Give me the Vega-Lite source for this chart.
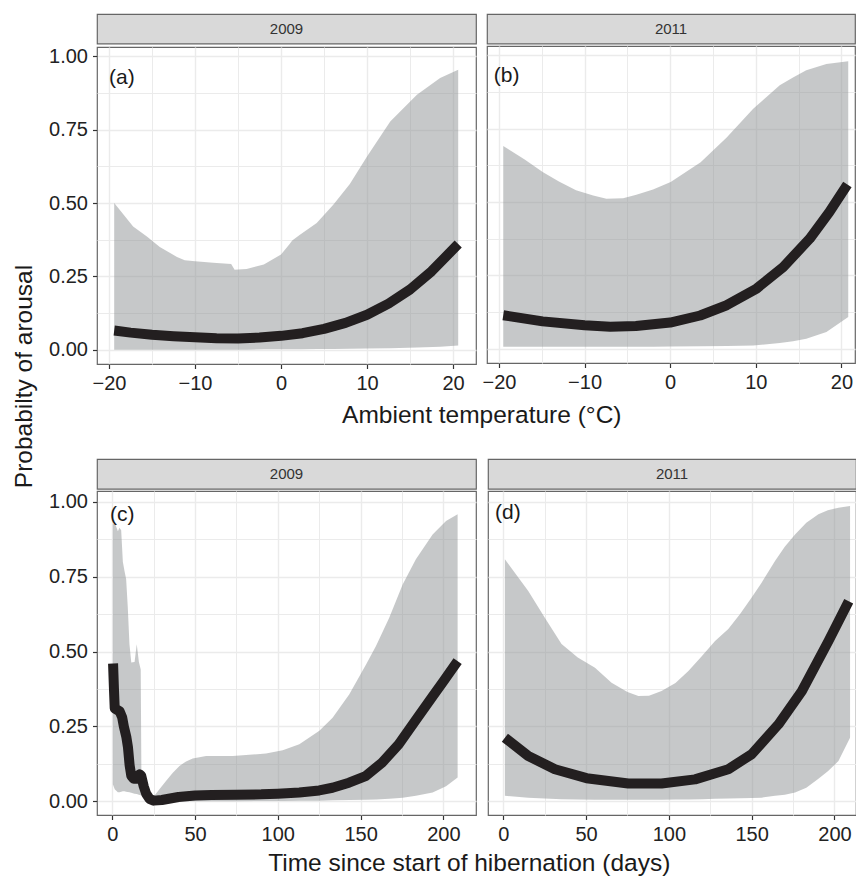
{
  "$schema": "https://vega.github.io/schema/vega-lite/v6.json",
  "padding": {"left": 12, "top": 13, "right": 0, "bottom": 0},
  "title": {"text": "Probabilty of arousal", "orient": "left", "anchor": "middle", "fontSize": 24.5, "fontWeight": "normal", "color": "#1a1a1a", "font": "Liberation Sans", "offset": 10, "dx": 68},
  "datasets": {
    "bandA": [
      {"x": -19.4, "lo": 0, "hi": 0.5}, {"x": -18.3, "lo": 0, "hi": 0.46}, {"x": -17.2, "lo": 0, "hi": 0.42}, {"x": -15.6, "lo": 0, "hi": 0.386},
      {"x": -14.1, "lo": 0, "hi": 0.35}, {"x": -12.1, "lo": 0, "hi": 0.316}, {"x": -11.2, "lo": 0, "hi": 0.305}, {"x": -10, "lo": 0, "hi": 0.301},
      {"x": -7.9, "lo": 0, "hi": 0.296}, {"x": -5.8, "lo": 0, "hi": 0.292}, {"x": -5.4, "lo": 0, "hi": 0.272}, {"x": -4, "lo": 0, "hi": 0.275},
      {"x": -2, "lo": 0.001, "hi": 0.29}, {"x": 0, "lo": 0.001, "hi": 0.324}, {"x": 1.0, "lo": 0.001, "hi": 0.36}, {"x": 1.3, "lo": 0.001, "hi": 0.372},
      {"x": 2.2, "lo": 0.001, "hi": 0.392}, {"x": 4.15, "lo": 0.002, "hi": 0.432}, {"x": 6.1, "lo": 0.002, "hi": 0.495}, {"x": 8, "lo": 0.003, "hi": 0.565},
      {"x": 10, "lo": 0.004, "hi": 0.659}, {"x": 12.7, "lo": 0.005, "hi": 0.778}, {"x": 15.8, "lo": 0.007, "hi": 0.869}, {"x": 18.5, "lo": 0.01, "hi": 0.926},
      {"x": 20.6, "lo": 0.014, "hi": 0.954}
    ],
    "lineA": [
      {"x": -19.4, "p": 0.065}, {"x": -17.5, "p": 0.058}, {"x": -15, "p": 0.051}, {"x": -12.5, "p": 0.046}, {"x": -10, "p": 0.042},
      {"x": -7.5, "p": 0.039}, {"x": -5, "p": 0.038}, {"x": -2.5, "p": 0.041}, {"x": 0, "p": 0.047}, {"x": 2.5, "p": 0.056},
      {"x": 5, "p": 0.071}, {"x": 7.5, "p": 0.091}, {"x": 10, "p": 0.119}, {"x": 12.5, "p": 0.157}, {"x": 15, "p": 0.205},
      {"x": 17.5, "p": 0.267}, {"x": 20.6, "p": 0.36}
    ],
    "bandB": [
      {"x": -19.5, "lo": 0.006, "hi": 0.691}, {"x": -17, "lo": 0.006, "hi": 0.645}, {"x": -14.9, "lo": 0.006, "hi": 0.602}, {"x": -13, "lo": 0.006, "hi": 0.57},
      {"x": -11, "lo": 0.006, "hi": 0.54}, {"x": -9, "lo": 0.006, "hi": 0.522}, {"x": -7.45, "lo": 0.006, "hi": 0.511}, {"x": -5.5, "lo": 0.006, "hi": 0.513},
      {"x": -3.95, "lo": 0.006, "hi": 0.525}, {"x": -2, "lo": 0.006, "hi": 0.543}, {"x": 0.06, "lo": 0.007, "hi": 0.568}, {"x": 3.56, "lo": 0.008, "hi": 0.636},
      {"x": 6.6, "lo": 0.009, "hi": 0.72}, {"x": 9.7, "lo": 0.011, "hi": 0.818}, {"x": 12.8, "lo": 0.019, "hi": 0.898}, {"x": 14.35, "lo": 0.025, "hi": 0.925},
      {"x": 15.9, "lo": 0.034, "hi": 0.949}, {"x": 18.25, "lo": 0.057, "hi": 0.971}, {"x": 20.8, "lo": 0.108, "hi": 0.98}
    ],
    "lineB": [
      {"x": -19.5, "p": 0.114}, {"x": -14.9, "p": 0.093}, {"x": -10, "p": 0.08}, {"x": -7, "p": 0.075}, {"x": -4, "p": 0.077},
      {"x": 0, "p": 0.089}, {"x": 3.5, "p": 0.113}, {"x": 6.6, "p": 0.148}, {"x": 10.1, "p": 0.205}, {"x": 13.2, "p": 0.278},
      {"x": 16.3, "p": 0.375}, {"x": 18.6, "p": 0.466}, {"x": 20.7, "p": 0.56}
    ],
    "bandC": [
      {"x": 0.4, "lo": 0.057, "hi": 0.925}, {"x": 1.5, "lo": 0.04, "hi": 0.93}, {"x": 3.4, "lo": 0.03, "hi": 0.902}, {"x": 4.4, "lo": 0.03, "hi": 0.913},
      {"x": 5.4, "lo": 0.032, "hi": 0.905}, {"x": 6.4, "lo": 0.033, "hi": 0.8}, {"x": 7.4, "lo": 0.033, "hi": 0.769}, {"x": 8.4, "lo": 0.032, "hi": 0.741},
      {"x": 9.4, "lo": 0.031, "hi": 0.646}, {"x": 10.4, "lo": 0.03, "hi": 0.524}, {"x": 11.5, "lo": 0.028, "hi": 0.463}, {"x": 13.5, "lo": 0.025, "hi": 0.465},
      {"x": 14.8, "lo": 0.024, "hi": 0.524}, {"x": 16.1, "lo": 0.022, "hi": 0.465}, {"x": 17.2, "lo": 0.02, "hi": 0.44}, {"x": 17.6, "lo": 0.019, "hi": 0.1},
      {"x": 18.5, "lo": 0.017, "hi": 0.057}, {"x": 20.5, "lo": 0.01, "hi": 0.023}, {"x": 22.5, "lo": 0.003, "hi": 0.015}, {"x": 24.5, "lo": 0, "hi": 0.012},
      {"x": 28.5, "lo": 0, "hi": 0.04}, {"x": 32.6, "lo": 0, "hi": 0.068}, {"x": 36.6, "lo": 0, "hi": 0.095}, {"x": 40.6, "lo": 0, "hi": 0.118},
      {"x": 44.6, "lo": 0, "hi": 0.133}, {"x": 48.6, "lo": 0, "hi": 0.143}, {"x": 56.7, "lo": 0, "hi": 0.151}, {"x": 72.8, "lo": 0, "hi": 0.151},
      {"x": 92.9, "lo": 0.001, "hi": 0.159}, {"x": 103, "lo": 0.001, "hi": 0.17}, {"x": 113, "lo": 0.002, "hi": 0.19}, {"x": 125.1, "lo": 0.002, "hi": 0.235},
      {"x": 133.1, "lo": 0.003, "hi": 0.279}, {"x": 143.2, "lo": 0.004, "hi": 0.357}, {"x": 153.3, "lo": 0.005, "hi": 0.457}, {"x": 159.3, "lo": 0.006, "hi": 0.518},
      {"x": 167.3, "lo": 0.008, "hi": 0.613}, {"x": 175.4, "lo": 0.012, "hi": 0.724}, {"x": 183.4, "lo": 0.018, "hi": 0.808}, {"x": 193.5, "lo": 0.029, "hi": 0.891},
      {"x": 201.6, "lo": 0.05, "hi": 0.936}, {"x": 208.6, "lo": 0.079, "hi": 0.958}
    ],
    "lineC": [
      {"x": 0.5, "p": 0.46}, {"x": 1.0, "p": 0.38}, {"x": 1.5, "p": 0.31}, {"x": 3, "p": 0.305}, {"x": 4.5, "p": 0.3},
      {"x": 6, "p": 0.28}, {"x": 7, "p": 0.25}, {"x": 8.5, "p": 0.215}, {"x": 9.5, "p": 0.18}, {"x": 10.5, "p": 0.12},
      {"x": 11.5, "p": 0.085}, {"x": 13, "p": 0.075}, {"x": 15, "p": 0.075}, {"x": 16.5, "p": 0.09}, {"x": 17.5, "p": 0.085},
      {"x": 19, "p": 0.05}, {"x": 20.5, "p": 0.025}, {"x": 22.5, "p": 0.008}, {"x": 25, "p": 0.002}, {"x": 30, "p": 0.004},
      {"x": 35, "p": 0.009}, {"x": 40, "p": 0.014}, {"x": 50, "p": 0.019}, {"x": 60, "p": 0.021}, {"x": 75, "p": 0.022},
      {"x": 90, "p": 0.023}, {"x": 100, "p": 0.025}, {"x": 113, "p": 0.029}, {"x": 125, "p": 0.036}, {"x": 133, "p": 0.045},
      {"x": 143, "p": 0.062}, {"x": 153, "p": 0.084}, {"x": 163, "p": 0.129}, {"x": 173, "p": 0.19}, {"x": 183, "p": 0.268},
      {"x": 193.5, "p": 0.35}, {"x": 200, "p": 0.4}, {"x": 208.6, "p": 0.468}
    ],
    "bandD": [
      {"x": 1.0, "lo": 0.018, "hi": 0.808}, {"x": 15.1, "lo": 0.012, "hi": 0.702}, {"x": 25.1, "lo": 0.009, "hi": 0.613}, {"x": 35.2, "lo": 0.007, "hi": 0.525},
      {"x": 45, "lo": 0.006, "hi": 0.48}, {"x": 55.4, "lo": 0.005, "hi": 0.446}, {"x": 65.4, "lo": 0.005, "hi": 0.396}, {"x": 75, "lo": 0.005, "hi": 0.365},
      {"x": 81.6, "lo": 0.005, "hi": 0.351}, {"x": 88, "lo": 0.005, "hi": 0.352}, {"x": 95.6, "lo": 0.005, "hi": 0.368}, {"x": 104, "lo": 0.006, "hi": 0.395},
      {"x": 111.8, "lo": 0.006, "hi": 0.435}, {"x": 120, "lo": 0.007, "hi": 0.485}, {"x": 127.9, "lo": 0.008, "hi": 0.535}, {"x": 135.9, "lo": 0.009, "hi": 0.575},
      {"x": 143, "lo": 0.01, "hi": 0.625}, {"x": 150, "lo": 0.011, "hi": 0.68}, {"x": 156, "lo": 0.012, "hi": 0.73}, {"x": 164.1, "lo": 0.018, "hi": 0.802},
      {"x": 170, "lo": 0.022, "hi": 0.85}, {"x": 176.2, "lo": 0.029, "hi": 0.891}, {"x": 183, "lo": 0.045, "hi": 0.93}, {"x": 190.3, "lo": 0.075, "hi": 0.958},
      {"x": 196, "lo": 0.1, "hi": 0.972}, {"x": 202.4, "lo": 0.134, "hi": 0.98}, {"x": 209.4, "lo": 0.212, "hi": 0.986}
    ],
    "lineD": [
      {"x": 1.0, "p": 0.212}, {"x": 15.1, "p": 0.151}, {"x": 31.2, "p": 0.107}, {"x": 50.3, "p": 0.077}, {"x": 75.5, "p": 0.059},
      {"x": 95.6, "p": 0.059}, {"x": 115.8, "p": 0.073}, {"x": 135.9, "p": 0.107}, {"x": 150, "p": 0.157}, {"x": 166.2, "p": 0.257},
      {"x": 180.3, "p": 0.368}, {"x": 196.4, "p": 0.535}, {"x": 208.6, "p": 0.668}
    ],
    "labels": [
      {"panel": "a", "label": "(a)", "x": -20.0, "y": 0.926},
      {"panel": "b", "label": "(b)", "x": -20.6, "y": 0.929},
      {"panel": "c", "label": "(c)", "x": -1.3, "y": 0.956},
      {"panel": "d", "label": "(d)", "x": -4.9, "y": 0.961}
    ]
  },
  "spacing": 30,
  "vconcat": [
    {
      "title": {"text": "Ambient temperature (°C)", "orient": "bottom", "anchor": "middle", "fontSize": 24.5, "fontWeight": "normal", "color": "#1a1a1a", "font": "Liberation Sans", "offset": 10, "dx": 30},
      "spacing": 4,
      "hconcat": [
        {
          "spacing": 0,
          "vconcat": [
            {"width": 379, "height": 29.5, "data": {"values": [{"year": "2009"}]}, "view": {"fill": "#D9D9D9", "stroke": "#666666", "strokeWidth": 1.2},
             "mark": {"type": "text", "fontSize": 15, "color": "#333333", "font": "Liberation Sans"}, "encoding": {"text": {"field": "year"}}},
            {
              "width": 379, "height": 317,
              "layer": [
                {"data": {"name": "bandA"}, "mark": {"type": "area", "fill": "#8E9194", "opacity": 0.5},
                 "encoding": {
                   "x": {"field": "x", "type": "quantitative", "scale": {"domain": [-21.4, 22.67], "nice": false, "zero": false},
                         "axis": {"orient": "bottom", "values": [-15, -5, 5, 15], "labels": false, "ticks": false, "grid": true, "gridWidth": 1, "title": null}},
                   "y": {"field": "hi", "type": "quantitative", "scale": {"domain": [-0.049, 1.032], "nice": false, "zero": false},
                         "axis": {"orient": "left", "values": [0.125, 0.375, 0.625, 0.875], "labels": false, "ticks": false, "grid": true, "gridWidth": 1, "title": null}},
                   "y2": {"field": "lo"}
                 }},
                {"data": {"name": "lineA"}, "mark": {"type": "line", "color": "#231F20", "strokeWidth": 10, "strokeJoin": "round"},
                 "encoding": {
                   "x": {"field": "x", "type": "quantitative", "axis": {"orient": "bottom", "values": [-20, -10, 0, 10, 20], "format": "d", "grid": true, "title": null}},
                   "y": {"field": "p", "type": "quantitative", "axis": {"orient": "left", "values": [0, 0.25, 0.5, 0.75, 1], "format": ".2f", "grid": true, "title": null}}
                 }},
                {"data": {"name": "labels"}, "transform": [{"filter": "datum.panel == 'a'"}],
                 "mark": {"type": "text", "align": "left", "baseline": "middle", "fontSize": 21, "color": "#1a1a1a", "font": "Liberation Sans"},
                 "encoding": {"x": {"field": "x", "type": "quantitative", "axis": null}, "y": {"field": "y", "type": "quantitative", "axis": null}, "text": {"field": "label"}}}
              ],
              "resolve": {"axis": {"x": "independent", "y": "independent"}}
            }
          ]
        },
        {
          "spacing": 0,
          "vconcat": [
            {"width": 368, "height": 29.5, "data": {"values": [{"year": "2011"}]}, "view": {"fill": "#D9D9D9", "stroke": "#666666", "strokeWidth": 1.2},
             "mark": {"type": "text", "fontSize": 15, "color": "#333333", "font": "Liberation Sans"}, "encoding": {"text": {"field": "year"}}},
            {
              "width": 368, "height": 317,
              "layer": [
                {"data": {"name": "bandB"}, "mark": {"type": "area", "fill": "#8E9194", "opacity": 0.5},
                 "encoding": {
                   "x": {"field": "x", "type": "quantitative", "scale": {"domain": [-21.4, 21.59], "nice": false, "zero": false},
                         "axis": {"orient": "bottom", "values": [-15, -5, 5, 15], "labels": false, "ticks": false, "grid": true, "gridWidth": 1, "title": null}},
                   "y": {"field": "hi", "type": "quantitative", "scale": {"domain": [-0.049, 1.032], "nice": false, "zero": false},
                         "axis": {"orient": "left", "values": [0.125, 0.375, 0.625, 0.875], "labels": false, "ticks": false, "grid": true, "gridWidth": 1, "title": null}},
                   "y2": {"field": "lo"}
                 }},
                {"data": {"name": "lineB"}, "mark": {"type": "line", "color": "#231F20", "strokeWidth": 10, "strokeJoin": "round"},
                 "encoding": {
                   "x": {"field": "x", "type": "quantitative", "axis": {"orient": "bottom", "values": [-20, -10, 0, 10, 20], "format": "d", "grid": true, "title": null}},
                   "y": {"field": "p", "type": "quantitative", "axis": {"orient": "left", "values": [0, 0.25, 0.5, 0.75, 1], "labels": false, "ticks": false, "grid": true, "title": null}}
                 }},
                {"data": {"name": "labels"}, "transform": [{"filter": "datum.panel == 'b'"}],
                 "mark": {"type": "text", "align": "left", "baseline": "middle", "fontSize": 21, "color": "#1a1a1a", "font": "Liberation Sans"},
                 "encoding": {"x": {"field": "x", "type": "quantitative", "axis": null}, "y": {"field": "y", "type": "quantitative", "axis": null}, "text": {"field": "label"}}}
              ],
              "resolve": {"axis": {"x": "independent", "y": "independent"}}
            }
          ]
        }
      ]
    },
    {
      "title": {"text": "Time since start of hibernation (days)", "orient": "bottom", "anchor": "middle", "fontSize": 24.5, "fontWeight": "normal", "color": "#1a1a1a", "font": "Liberation Sans", "offset": 7, "dx": 17},
      "spacing": 10,
      "hconcat": [
        {
          "spacing": 0,
          "vconcat": [
            {"width": 379, "height": 29.8, "data": {"values": [{"year": "2009"}]}, "view": {"fill": "#D9D9D9", "stroke": "#666666", "strokeWidth": 1.2},
             "mark": {"type": "text", "fontSize": 15, "color": "#333333", "font": "Liberation Sans"}, "encoding": {"text": {"field": "year"}}},
            {
              "width": 379, "height": 324,
              "layer": [
                {"data": {"name": "bandC"}, "mark": {"type": "area", "fill": "#8E9194", "opacity": 0.5},
                 "encoding": {
                   "x": {"field": "x", "type": "quantitative", "scale": {"domain": [-9.2, 219.7], "nice": false, "zero": false},
                         "axis": {"orient": "bottom", "values": [25, 75, 125, 175], "labels": false, "ticks": false, "grid": true, "gridWidth": 1, "title": null}},
                   "y": {"field": "hi", "type": "quantitative", "scale": {"domain": [-0.046, 1.036], "nice": false, "zero": false},
                         "axis": {"orient": "left", "values": [0.125, 0.375, 0.625, 0.875], "labels": false, "ticks": false, "grid": true, "gridWidth": 1, "title": null}},
                   "y2": {"field": "lo"}
                 }},
                {"data": {"name": "lineC"}, "mark": {"type": "line", "color": "#231F20", "strokeWidth": 10, "strokeJoin": "round"},
                 "encoding": {
                   "x": {"field": "x", "type": "quantitative", "axis": {"orient": "bottom", "values": [0, 50, 100, 150, 200], "format": "d", "grid": true, "title": null}},
                   "y": {"field": "p", "type": "quantitative", "axis": {"orient": "left", "values": [0, 0.25, 0.5, 0.75, 1], "format": ".2f", "grid": true, "title": null}}
                 }},
                {"data": {"name": "labels"}, "transform": [{"filter": "datum.panel == 'c'"}],
                 "mark": {"type": "text", "align": "left", "baseline": "middle", "fontSize": 21, "color": "#1a1a1a", "font": "Liberation Sans"},
                 "encoding": {"x": {"field": "x", "type": "quantitative", "axis": null}, "y": {"field": "y", "type": "quantitative", "axis": null}, "text": {"field": "label"}}}
              ],
              "resolve": {"axis": {"x": "independent", "y": "independent"}}
            }
          ]
        },
        {
          "spacing": 0,
          "vconcat": [
            {"width": 368, "height": 29.8, "data": {"values": [{"year": "2011"}]}, "view": {"fill": "#D9D9D9", "stroke": "#666666", "strokeWidth": 1.2},
             "mark": {"type": "text", "fontSize": 15, "color": "#333333", "font": "Liberation Sans"}, "encoding": {"text": {"field": "year"}}},
            {
              "width": 368, "height": 324,
              "layer": [
                {"data": {"name": "bandD"}, "mark": {"type": "area", "fill": "#8E9194", "opacity": 0.5},
                 "encoding": {
                   "x": {"field": "x", "type": "quantitative", "scale": {"domain": [-9.2, 213.0], "nice": false, "zero": false},
                         "axis": {"orient": "bottom", "values": [25, 75, 125, 175], "labels": false, "ticks": false, "grid": true, "gridWidth": 1, "title": null}},
                   "y": {"field": "hi", "type": "quantitative", "scale": {"domain": [-0.046, 1.036], "nice": false, "zero": false},
                         "axis": {"orient": "left", "values": [0.125, 0.375, 0.625, 0.875], "labels": false, "ticks": false, "grid": true, "gridWidth": 1, "title": null}},
                   "y2": {"field": "lo"}
                 }},
                {"data": {"name": "lineD"}, "mark": {"type": "line", "color": "#231F20", "strokeWidth": 10, "strokeJoin": "round"},
                 "encoding": {
                   "x": {"field": "x", "type": "quantitative", "axis": {"orient": "bottom", "values": [0, 50, 100, 150, 200], "format": "d", "grid": true, "title": null}},
                   "y": {"field": "p", "type": "quantitative", "axis": {"orient": "left", "values": [0, 0.25, 0.5, 0.75, 1], "labels": false, "ticks": false, "grid": true, "title": null}}
                 }},
                {"data": {"name": "labels"}, "transform": [{"filter": "datum.panel == 'd'"}],
                 "mark": {"type": "text", "align": "left", "baseline": "middle", "fontSize": 21, "color": "#1a1a1a", "font": "Liberation Sans"},
                 "encoding": {"x": {"field": "x", "type": "quantitative", "axis": null}, "y": {"field": "y", "type": "quantitative", "axis": null}, "text": {"field": "label"}}}
              ],
              "resolve": {"axis": {"x": "independent", "y": "independent"}}
            }
          ]
        }
      ]
    }
  ],
  "config": {
    "font": "Liberation Sans",
    "view": {"stroke": "#666666", "strokeWidth": 1.2},
    "axis": {
      "domain": false, "labelFont": "Liberation Sans", "labelFontSize": 20, "labelColor": "#222222",
      "tickColor": "#333333", "tickSize": 4.5, "tickWidth": 1.2, "labelPadding": 5,
      "gridColor": "#EBEBEB", "gridWidth": 1.4, "labelFlush": false
    }
  }
}
